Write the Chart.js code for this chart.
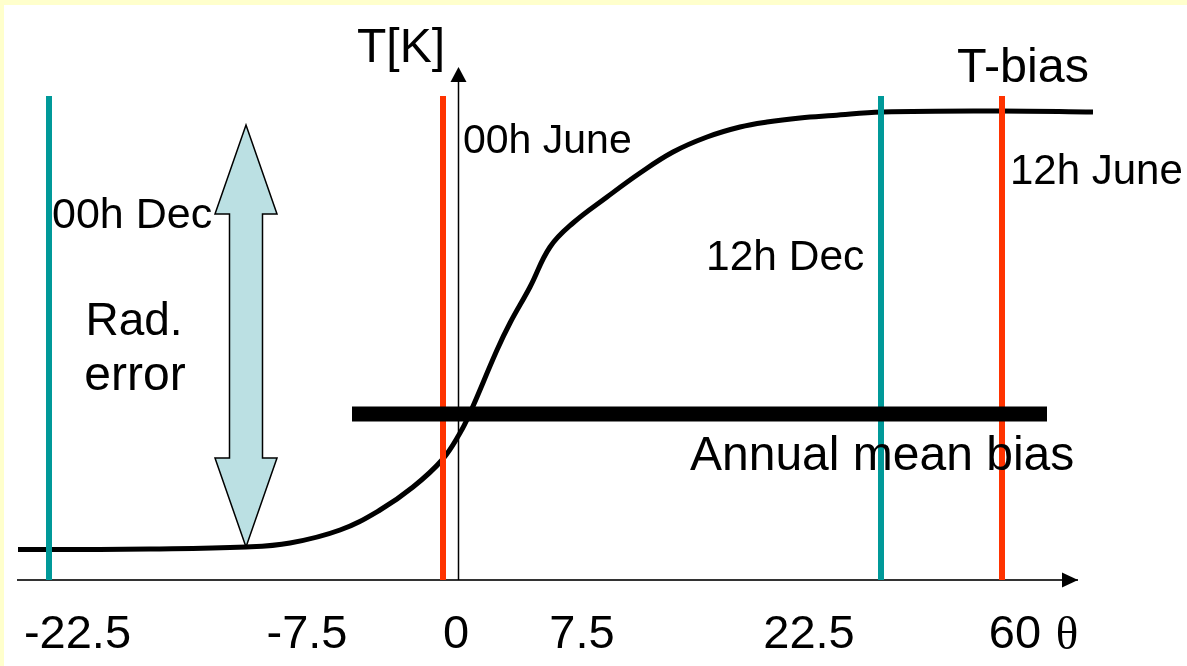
<!DOCTYPE html>
<html lang="en">
<head>
  <meta charset="UTF-8">
  <title>T-bias</title>
  <script src="https://cdn.jsdelivr.net/npm/chart.js@4/dist/chart.umd.min.js"></script>
  <style>
    html, body { margin: 0; padding: 0; background: #fff; }
    #wrap { width: 1187px; height: 666px; }
  </style>
</head>
<body>
  <div id="wrap"><canvas id="chart"></canvas></div>

  <script>
    // schematic T-bias curve (x = position on the drawn theta axis, y = T)
    const curveX = [-44, -40.9, -30.8, -21.2, -16.8, -11.8, -7.8, -4.5, -1.6, 0.2, 1.2, 3.9, 5.2, 7.2, 9.2, 11.5, 14.9, 18.2, 21.5, 24.9, 28.2, 30.9, 34.2, 37.5, 42.4, 54.2, 63.5];
    const curveY = [6.1, 6.1, 6.2, 6.6, 7.4, 10.0, 14.0, 18.6, 24.0, 29.4, 33.4, 46.0, 51.4, 58.6, 66.6, 71.4, 76.6, 81.4, 85.6, 88.6, 90.6, 91.6, 92.4, 92.9, 93.6, 93.8, 93.6];

    // launch times: December (teal) and June (red)
    const decLines = [-40.9, 42.3];
    const juneLines = [-1.5, 54.4];
    const markerTop = 96.8;

    // annual mean bias bar and radiation error arrow
    const meanBiasFrom = -10.6;
    const meanBiasTo = 58.9;
    const meanBiasValue = 33.2;
    const radErrorAt = -21.2;
    const radErrorLow = 6.6;
    const radErrorHigh = 91.0;

    // x tick labels (not to scale in the original sketch)
    const tickPos = [-38.05, -15.1, -0.2, 12.4, 35.1, 55.7];
    const tickLabels = ['-22.5', '-7.5', '0', '7.5', '22.5', '60'];

    const SANS = "'Liberation Sans', Arial, sans-serif";

    // text labels, placed in data units
    const notes = [
      { text: 'T[K]', x: -10.1, y: 103.6, size: 48 },
      { text: 'T-bias', x: 49.9, y: 99.6, size: 48.5 },
      { text: '00h June', x: 0.5, y: 85.4, size: 41 },
      { text: '12h June', x: 55.2, y: 79.2, size: 42 },
      { text: '00h Dec', x: -40.6, y: 70.4, size: 43 },
      { text: '12h Dec', x: 24.8, y: 62.0, size: 42.5 },
      { text: 'Rad.', x: -32.4, y: 49.0, size: 46, align: 'center' },
      { text: 'error', x: -32.3, y: 38.0, size: 48, align: 'center' },
      { text: 'Annual mean bias', x: 23.2, y: 22.0, size: 48 },
      { text: '\u03b8', x: 60.9, y: -13.8, size: 47, align: 'center', family: "'Liberation Serif', 'Times New Roman', serif" }
    ];

    function vline(x, color) {
      return {
        data: [{ x: x, y: 0 }, { x: x, y: markerTop }],
        borderColor: color,
        borderWidth: 6,
        borderCapStyle: 'butt',
        pointRadius: 0,
        order: 1
      };
    }

    const decor = {
      id: 'decor',
      beforeDraw(chart) {
        const { ctx, width, height } = chart;
        ctx.save();
        ctx.fillStyle = '#ffffcc';
        ctx.fillRect(0, 0, width, height);
        ctx.fillStyle = '#ffffff';
        ctx.fillRect(4, 5, width - 4, height - 5);
        ctx.restore();
      },
      beforeDatasetsDraw(chart) {
        const { ctx, chartArea } = chart;
        const xs = chart.scales.x, ys = chart.scales.y;
        ctx.save();

        // y axis with arrow head
        const x0 = Math.round(xs.getPixelForValue(0)) + 0.5;
        ctx.strokeStyle = '#000';
        ctx.lineWidth = 1.5;
        ctx.beginPath();
        ctx.moveTo(x0, chartArea.bottom);
        ctx.lineTo(x0, chartArea.top + 12);
        ctx.stroke();
        ctx.fillStyle = '#000';
        ctx.beginPath();
        ctx.moveTo(x0, chartArea.top);
        ctx.lineTo(x0 + 8, chartArea.top + 15);
        ctx.lineTo(x0 - 8, chartArea.top + 15);
        ctx.closePath();
        ctx.fill();

        // x axis arrow head
        const yb = chartArea.bottom;
        ctx.beginPath();
        ctx.moveTo(chartArea.right + 1, yb);
        ctx.lineTo(chartArea.right - 15, yb - 7.5);
        ctx.lineTo(chartArea.right - 15, yb + 7.5);
        ctx.closePath();
        ctx.fill();

        // double arrow for the radiation error
        const cx = xs.getPixelForValue(radErrorAt);
        const ty = ys.getPixelForValue(radErrorHigh);
        const by = ys.getPixelForValue(radErrorLow);
        const hw = 31, sw = 16.5, hl = 89;
        ctx.beginPath();
        ctx.moveTo(cx, ty);
        ctx.lineTo(cx + hw, ty + hl);
        ctx.lineTo(cx + sw, ty + hl);
        ctx.lineTo(cx + sw, by - hl);
        ctx.lineTo(cx + hw, by - hl);
        ctx.lineTo(cx, by);
        ctx.lineTo(cx - hw, by - hl);
        ctx.lineTo(cx - sw, by - hl);
        ctx.lineTo(cx - sw, ty + hl);
        ctx.lineTo(cx - hw, ty + hl);
        ctx.closePath();
        ctx.fillStyle = '#bbe0e3';
        ctx.fill();
        ctx.lineWidth = 1.5;
        ctx.lineJoin = 'miter';
        ctx.strokeStyle = '#000';
        ctx.stroke();
        ctx.restore();
      },
      afterDraw(chart) {
        const { ctx } = chart;
        const xs = chart.scales.x, ys = chart.scales.y;
        ctx.save();
        ctx.fillStyle = '#000';
        ctx.textBaseline = 'alphabetic';
        notes.forEach(n => {
          ctx.font = n.size + 'px ' + (n.family || SANS);
          ctx.textAlign = n.align || 'left';
          ctx.fillText(n.text, xs.getPixelForValue(n.x), ys.getPixelForValue(n.y));
        });
        ctx.restore();
      }
    };

    const ctx = document.getElementById('chart').getContext('2d');
    const chart = new Chart(ctx, {
      type: 'line',
      data: {
        datasets: [
          {
            data: [{ x: meanBiasFrom, y: meanBiasValue }, { x: meanBiasTo, y: meanBiasValue }],
            borderColor: '#000',
            borderWidth: 15,
            borderCapStyle: 'butt',
            pointRadius: 0,
            order: 0
          },
          vline(decLines[0], '#009999'),
          vline(decLines[1], '#009999'),
          vline(juneLines[0], '#ff3300'),
          vline(juneLines[1], '#ff3300'),
          {
            data: curveX.map((x, i) => ({ x: x, y: curveY[i] })),
            borderColor: '#000',
            borderWidth: 5,
            pointRadius: 0,
            tension: 0.4,
            clip: false,
            order: 2
          }
        ]
      },
      options: {
        responsive: true,
        maintainAspectRatio: false,
        animation: false,
        events: [],
        layout: { padding: { left: 18, top: 67, right: 110, bottom: 0 } },
        plugins: {
          legend: { display: false },
          tooltip: { enabled: false }
        },
        scales: {
          x: {
            type: 'linear',
            min: -44,
            max: 61.9,
            afterBuildTicks: s => { s.ticks = tickPos.map(v => ({ value: v })); },
            afterFit: s => {
              s.height = 86;
              s.paddingLeft = 0;
              s.paddingRight = 0;
            },
            ticks: {
              callback: (v, i) => tickLabels[i],
              font: { family: SANS, size: 47 },
              color: '#000',
              padding: 27,
              maxRotation: 0,
              autoSkip: false
            },
            grid: { display: false, drawTicks: false },
            border: { display: true, color: '#333', width: 2 }
          },
          y: {
            type: 'linear',
            min: 0,
            max: 102.6,
            display: false
          }
        }
      },
      plugins: [decor]
    });
  </script>
</body>
</html>
